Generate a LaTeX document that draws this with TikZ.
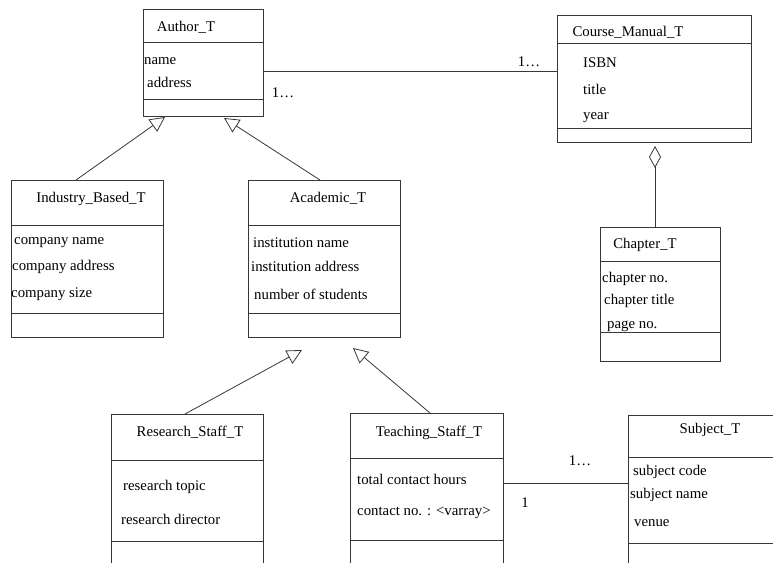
\documentclass[tikz,border=0pt]{standalone}
\usepackage{fontspec}
\setmainfont{Liberation Serif}
\usepackage{tikz}
\usetikzlibrary{arrows.meta,calc,positioning}
\definecolor{LineGray}{RGB}{55,55,55}

\tikzset{
  cls/.style={draw=LineGray,line width=.9pt,inner sep=0pt,outer sep=0pt},
  ttl/.style={font=\fontsize{14.8}{16}\selectfont,inner sep=0pt,yshift=-1.5pt},
  att/.style={font=\fontsize{14.8}{16}\selectfont,inner sep=0pt,anchor=west,yshift=-1.5pt},
  mult/.style={font=\fontsize{14.8}{16}\selectfont,inner sep=0pt,yshift=-1pt},
  sep/.style={draw=LineGray,line width=.9pt},
  gen/.style={draw=LineGray,line width=.8pt,-{Triangle[open,length=15pt,width=15pt]}},
  agg/.style={draw=LineGray,line width=.8pt,-{Diamond[open,length=22pt,width=12pt]}},
  assoc/.style={draw=LineGray,line width=.8pt}
}

\begin{document}
\begin{tikzpicture}[x=1pt,y=-1pt]
  \useasboundingbox (0,0) rectangle (773,562);
  \clip (0,0) rectangle (773,562);

  % class boxes
  \node[cls,minimum width=120pt,minimum height=107pt] (author) at (203,62.5) {};
  \node[cls,minimum width=194pt,minimum height=127pt] (manual) at (654,78.5) {};
  \node[cls,minimum width=120pt,minimum height=134pt] (chapter) at (660,294) {};
  \node[cls,minimum width=152pt,minimum height=157pt] (industry) at (87,258.5) {};
  \node[cls,minimum width=152pt,minimum height=157pt] (academic) at (324,258.5) {};
  \node[cls,minimum width=152pt,minimum height=186pt] (research) at (187,507) {};
  \node[cls,minimum width=153pt,minimum height=187pt] (teaching) at (426.5,506.5) {};
  \node[cls,minimum width=172pt,minimum height=185pt] (subject) at (714,507.5) {};

  % compartments
  \foreach \b/\ya/\yb in {author/42/99, manual/43/128, chapter/261/332,
      industry/225/313, academic/225/313, research/460/541,
      teaching/458/540, subject/457/543}{
    \draw[sep] (\b.west |- 0,\ya) -- (\b.east |- 0,\ya);
    \draw[sep] (\b.west |- 0,\yb) -- (\b.east |- 0,\yb);
  }

  % class names
  \node[ttl] (author-t) at (186,26) {Author\_T};
  \node[ttl] (manual-t) at (628,31) {Course\_Manual\_T};
  \node[ttl] (chapter-t) at (645,243) {Chapter\_T};
  \node[ttl] (industry-t) at (91,197) {Industry\_Based\_T};
  \node[ttl] (academic-t) at (328,197) {Academic\_T};
  \node[ttl] (research-t) at (190,431) {Research\_Staff\_T};
  \node[ttl] (teaching-t) at (429,431) {Teaching\_Staff\_T};
  \node[ttl] (subject-t) at (710,428) {Subject\_T};

  % attributes
  \foreach \t/\x/\y [count=\i] in {name/144/60, address/147/81}
    \node[att] (author-a\i) at (\x,\y) {\t};
  \foreach \t/\x/\y [count=\i] in {ISBN/583/61, title/583/88, year/583/116}
    \node[att] (manual-a\i) at (\x,\y) {\t};
  \foreach \t/\x/\y [count=\i] in {chapter no./602/277, chapter title/604/299, page no./607/325}
    \node[att] (chapter-a\i) at (\x,\y) {\t};
  \foreach \t/\x/\y [count=\i] in {company name/14/241, company address/12/265, company size/11/293}
    \node[att] (industry-a\i) at (\x,\y) {\t};
  \foreach \t/\x/\y [count=\i] in {institution name/253/241, institution address/251/265, number of students/254/293}
    \node[att] (academic-a\i) at (\x,\y) {\t};
  \foreach \t/\x/\y [count=\i] in {research topic/123/485, research director/121/518}
    \node[att] (research-a\i) at (\x,\y) {\t};
  \foreach \t/\x/\y [count=\i] in {total contact hours/357/478, contact no. : <varray>/357/511}
    \node[att] (teaching-a\i) at (\x,\y) {\t};
  \foreach \t/\x/\y [count=\i] in {subject code/633/470, subject name/630/493, venue/634/522}
    \node[att] (subject-a\i) at (\x,\y) {\t};

  % arrow tips stop short of the parent box
  \coordinate (authorL) at (165,117);
  \coordinate (authorR) at (224,118);
  \coordinate (academicL) at (302,350);
  \coordinate (academicR) at (353,348);

  % generalisations
  \draw[gen] (industry.north -| 76,0) -- (authorL);
  \draw[gen] (academic.north -| 320,0) -- (authorR);
  \draw[gen] (research.north -| 185,0) -- (academicL);
  \draw[gen] (teaching.north -| 430,0) -- (academicR);

  % associations
  \draw[assoc] (author.east |- 0,71) -- (manual.west |- 0,71);
  \draw[assoc] (teaching.east |- 0,483) -- (subject.west |- 0,483);
  \draw[agg] (chapter.north -| 655,0) -- ([yshift=-4pt]manual.south -| 655,0);

  % multiplicities
  \node[mult] (m1) at (283,92) {1\ldots};
  \node[mult] (m2) at (529,61) {1\ldots};
  \node[mult] (m3) at (580,460) {1\ldots};
  \node[mult] (m4) at (525,502) {1};
\end{tikzpicture}
\end{document}
